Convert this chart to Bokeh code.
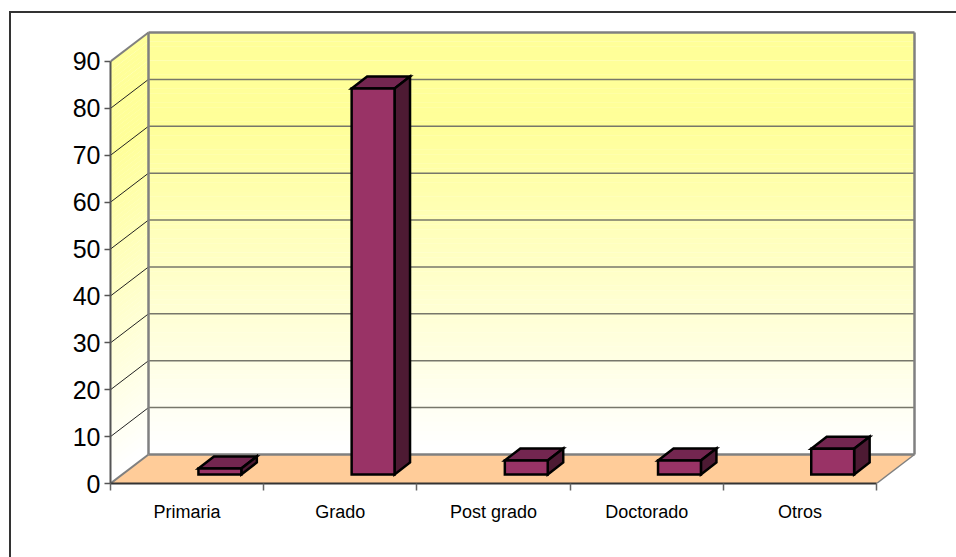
from bokeh.plotting import figure
from bokeh.models import LinearAxis, FixedTicker, Range1d, InlineStyleSheet
from bokeh.embed import file_html
from bokeh.resources import INLINE

categories = ["Primaria", "Grado", "Post grado", "Doctorado", "Otros"]
values = [1.3, 82.3, 3.0, 3.0, 5.5]
y_ticks = [0, 10, 20, 30, 40, 50, 60, 70, 80, 90]

PX = 153.2
PY = 4.689
DX, DY = 38 / PX, 29 / PY          # wall depth
BDX, BDY = 15.5 / PX, 12 / PY      # bar depth
BX0, BW = 0.574, 0.28              # bar offset/width in a category
BY0 = 9 / PY                       # bar base above front edge

W, H = 956, 557
left, bottom = 110, 74
fw, fh = W - left, H - bottom

p = figure(width=W, height=H, output_backend="svg", toolbar_location=None,
           x_range=Range1d(0, fw / PX), y_range=Range1d(0, fh / PY),
           x_axis_type=None, y_axis_type=None,
           min_border_left=left, min_border_bottom=bottom,
           min_border_top=0, min_border_right=0, outline_line_color=None)
p.xgrid.visible = False
p.ygrid.visible = False

n = len(categories)
ymax = y_ticks[-1]


def wall_color(v):
    t = min(1.0, max(0.0, (v / ymax - 0.02) / 0.76))
    return "#ffff%02x" % int(round(255 - (255 - 153) * t))


# gradient walls
steps = 90
for k in range(steps):
    v0, v1 = ymax * k / steps, ymax * (k + 1) / steps
    c = wall_color((v0 + v1) / 2)
    p.quad(left=DX, right=n + DX, bottom=v0 + DY, top=v1 + DY + 0.05, fill_color=c, line_color=None)
    p.patch([0, DX, DX, 0], [v0, v0 + DY, v1 + DY + 0.05, v1 + 0.05], fill_color=c, line_color=None)

# floor
p.patch([0, n, n + DX, DX], [0, 0, DY, DY], fill_color="#ffcc99", line_color=None)

# gridlines
for v in y_ticks[1:-1]:
    p.line([DX, n + DX], [v + DY, v + DY], line_color="#77776a", line_width=1.5)
    p.line([0, DX], [v, v + DY], line_color="#222222", line_width=1)

# wall edges
grey = "#808080"
p.line([DX, DX], [DY, ymax + DY], line_color=grey, line_width=2.5)
p.line([n + DX, n + DX], [DY, ymax + DY], line_color=grey, line_width=2.5)
p.line([DX, n + DX], [ymax + DY, ymax + DY], line_color=grey, line_width=2.5)
p.line([DX, n + DX], [DY, DY], line_color=grey, line_width=2.5)
p.line([0, DX], [ymax, ymax + DY], line_color=grey, line_width=2)
p.line([0, DX], [0, DY], line_color=grey, line_width=2)
p.line([n, n + DX], [0, DY], line_color=grey, line_width=1.5)

# bars
for i, v in enumerate(values):
    x0, x1 = i + BX0, i + BX0 + BW
    y0, y1 = BY0, BY0 + v
    style = dict(line_color="black", line_width=2.5, line_join="miter")
    p.patch([x0, x1, x1 + BDX, x0 + BDX], [y1, y1, y1 + BDY, y1 + BDY], fill_color="#732650", **style)
    p.patch([x1, x1 + BDX, x1 + BDX, x1], [y0, y0 + BDY, y1 + BDY, y1], fill_color="#4d1a33", **style)
    p.patch([x0, x1, x1, x0], [y0, y0, y1, y1], fill_color="#993366", **style)

# value axis
ya = LinearAxis(ticker=FixedTicker(ticks=y_ticks), bounds=(0, ymax))
ya.axis_line_color = "#555555"
ya.axis_line_width = 2
ya.major_tick_line_color = "#555555"
ya.major_tick_line_width = 1.5
ya.major_tick_in = 0
ya.major_tick_out = 6
ya.minor_tick_line_color = None
ya.major_label_standoff = 4
ya.major_label_text_font = "Liberation Sans"
ya.major_label_text_font_size = "25px"
ya.major_label_text_color = "#000000"
p.add_layout(ya, "left")

# category axis: boundary marks as minor ticks, names on the major ticks
xa = LinearAxis(ticker=FixedTicker(ticks=[i + 0.5 for i in range(n)],
                                   minor_ticks=list(range(n + 1))),
                bounds=(0, n))
xa.major_label_overrides = {i + 0.5: c for i, c in enumerate(categories)}
xa.axis_line_color = "#333333"
xa.axis_line_width = 2
xa.major_tick_line_color = None
xa.major_tick_in = 0
xa.major_tick_out = 0
xa.minor_tick_line_color = "#666666"
xa.minor_tick_line_width = 1.5
xa.minor_tick_in = 0
xa.minor_tick_out = 7
xa.major_label_standoff = 11
xa.major_label_text_font = "Liberation Sans"
xa.major_label_text_font_size = "18px"
xa.major_label_text_color = "#000000"
p.add_layout(xa, "below")

# outer frame of the picture
p.stylesheets = [InlineStyleSheet(css=":host::after{content:'';position:absolute;left:9px;top:11px;"
                                      "width:960px;height:560px;border:2px solid #333333;"
                                      "box-sizing:border-box;pointer-events:none}")]

open("out.html", "w").write(file_html(p, INLINE))
